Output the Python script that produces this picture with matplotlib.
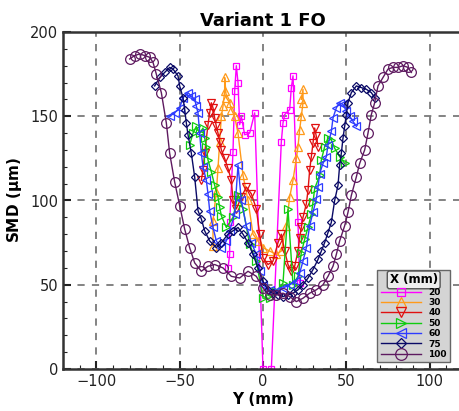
import numpy as np
import matplotlib.pyplot as plt
from matplotlib.ticker import MultipleLocator

# SMD profiles across Y at each axial station X (mm)
y20 = [-21, -20, -20, -18, -17, -16, -15, -14, -13, -11, -8, -5, 0, 5, 11, 12, 13, 16, 17, 18, 21, 22]
smd20 = [60, 68, 87, 129, 165, 180, 170, 145, 150, 139, 140, 152, 0, 0, 135, 146, 151, 154, 167, 174, 87, 51]

y30 = [-30, -30, -28, -27, -26, -25, -24, -23, -23, -22, -20, -19, -17, -15, -12, -9, -6, -3, 0, 4, 8,
       11, 14, 16, 18, 20, 21, 22, 23, 24, 24, 23]
smd30 = [73, 88, 105, 119, 135, 150, 156, 165, 173, 161, 158, 154, 150, 140, 115, 100, 80, 76, 72, 70, 68,
         70, 85, 102, 112, 125, 132, 142, 150, 158, 166, 160]

y40 = [-37, -36, -35, -33, -32, -31, -30, -29, -28, -27, -26, -25, -23, -21, -19, -18, -16, -13, -10, -7,
       -4, -2, 0, 3, 6, 9, 11, 13, 15, 17, 19, 21, 22, 23, 24, 26, 27, 28, 29, 30, 31, 32, 33]
smd40 = [112, 118, 128, 145, 152, 158, 155, 149, 144, 140, 135, 130, 125, 119, 112, 100, 95, 102, 108, 104,
         95, 80, 66, 62, 64, 75, 80, 70, 62, 58, 61, 70, 78, 84, 90, 98, 106, 118, 126, 134, 143, 138, 132]

y50 = [-44, -42, -40, -38, -36, -35, -34, -33, -31, -29, -27, -26, -25, -22, -18, -15, -12, -8, -4, 0, 4,
       8, 12, 15, 18, 21, 23, 25, 27, 29, 30, 31, 34, 35, 37, 39, 41, 43, 46, 49]
smd50 = [133, 140, 144, 140, 143, 137, 132, 124, 117, 109, 102, 96, 91, 84, 90, 103, 95, 74, 64, 42, 42,
         46, 51, 95, 50, 55, 69, 77, 84, 92, 99, 107, 115, 124, 132, 137, 136, 131, 126, 122]

y60 = [-56, -53, -50, -48, -45, -43, -41, -40, -39, -38, -37, -36, -34, -33, -32, -30, -28, -25, -22, -20,
       -17, -15, -13, -10, -7, -4, -2, 0, 4, 8, 12, 16, 20, 22, 24, 26, 28, 30, 32, 33, 34, 36, 38, 39,
       41, 42, 44, 46, 48, 50, 52, 54, 56]
smd60 = [150, 152, 155, 161, 164, 162, 160, 156, 152, 140, 128, 120, 112, 104, 94, 84, 76, 72, 76, 82,
         92, 121, 100, 85, 75, 68, 58, 50, 47, 46, 48, 50, 52, 57, 64, 72, 85, 93, 101, 108, 116, 122, 126, 133,
         141, 149, 155, 158, 157, 153, 150, 147, 144]

y75 = [-65, -62, -59, -56, -54, -51, -50, -48, -47, -46, -45, -43, -41, -39, -37, -35, -32, -28, -25, -21,
       -18, -15, -12, -9, -6, -3, 0, 3, 6, 9, 12, 15, 18, 21, 24, 27, 30, 33, 35, 37, 39, 41, 43, 45, 46,
       47, 48, 49, 50, 51, 53, 56, 59, 62, 65, 67]
smd75 = [168, 173, 176, 179, 178, 174, 168, 161, 154, 146, 139, 128, 114, 94, 89, 82, 76, 72, 75, 80,
         82, 84, 80, 75, 68, 60, 52, 47, 45, 44, 43, 44, 45, 47, 50, 54, 59, 65, 70, 75, 81, 87, 100, 109, 121,
         128, 137, 144, 151, 158, 164, 168, 167, 166, 164, 161]

y100 = [-80, -77, -74, -71, -68, -66, -64, -61, -58, -56, -53, -50, -47, -44, -41, -37, -33, -29, -24, -19,
        -14, -9, -4, 0, 4, 8, 12, 16, 20, 24, 28, 32, 36, 39, 42, 44, 46, 49, 51, 53, 56, 58, 61, 63, 65,
        67, 69, 72, 75, 78, 81, 84, 87, 89]
smd100 = [184, 186, 187, 186, 185, 182, 175, 164, 146, 128, 111, 97, 83, 72, 63, 58, 61, 62, 60, 55,
          54, 58, 55, 48, 44, 44, 45, 43, 40, 42, 45, 47, 50, 55, 61, 68, 76, 85, 93, 103, 114, 122, 130, 140, 151,
          158, 168, 173, 178, 179, 179, 180, 179, 176]

stations = ['20', '30', '40', '50', '60', '75', '100']
series_y = [y20, y30, y40, y50, y60, y75, y100]
series_smd = [smd20, smd30, smd40, smd50, smd60, smd75, smd100]
colors = ['#ff00ff', '#ff9a1a', '#e01010', '#10cc10', '#2e3cff', '#0a0a66', '#5e1a60']
markers = ['s', '^', 'v', '>', '<', 'D', 'o']
msizes = [5, 5.5, 5.5, 5.5, 5.5, 4.3, 7]

fig = plt.figure(figsize=(4.6, 4.11), dpi=100)
ax = fig.add_axes([63 / 460, 42 / 411, 400 / 460, 337 / 411])

for ys, ss, lab, c, m, ms in zip(series_y, series_smd, stations, colors, markers, msizes):
    ax.plot(ys, ss, color=c, marker=m, markersize=ms, markerfacecolor='none',
            markeredgecolor=c, markeredgewidth=0.9, linewidth=1.0, label=lab)

ax.set_xlim(-120, 120)
ax.set_ylim(0, 200)
ax.set_xticks([-100, -50, 0, 50, 100])
ax.set_yticks([0, 50, 100, 150, 200])
ax.xaxis.set_minor_locator(MultipleLocator(10))
ax.yaxis.set_minor_locator(MultipleLocator(10))
ax.tick_params(which='both', direction='in', top=False, right=False, labelsize=10.5, colors='#222222')
ax.tick_params(which='major', length=6, width=1.5)
ax.tick_params(which='minor', length=3, width=0.8)
for s in ax.spines.values():
    s.set_linewidth(1.8)
    s.set_color('#333333')

ax.grid(True, which='major', linestyle=(0, (4, 4)), color='#7a7a7a', linewidth=1.3)
ax.set_axisbelow(True)

ax.set_title('Variant 1 FO', fontsize=13, fontweight='bold', pad=4)
ax.set_xlabel('Y (mm)', fontsize=11, fontweight='bold', labelpad=2)
ax.set_ylabel('SMD ($\\mathbf{\\mu}$m)', fontsize=11, fontweight='bold', labelpad=4)

leg = ax.legend(title='X (mm)', loc='lower right', bbox_to_anchor=(455 / 460, 44 / 411),
                bbox_transform=fig.transFigure, fontsize=6.5, title_fontsize=8.5,
                handlelength=4.5, markerscale=1.2, labelspacing=0.15, borderpad=0.4,
                facecolor='#d4d4d4', edgecolor='#666666', framealpha=1, fancybox=False)
leg.get_title().set_fontweight('bold')
leg.get_title().set_bbox(dict(facecolor='#eeeeee', edgecolor='#555555', boxstyle='round,pad=0.2'))
for t in leg.get_texts():
    t.set_fontweight('bold')

fig.savefig('out.png', dpi=100)
